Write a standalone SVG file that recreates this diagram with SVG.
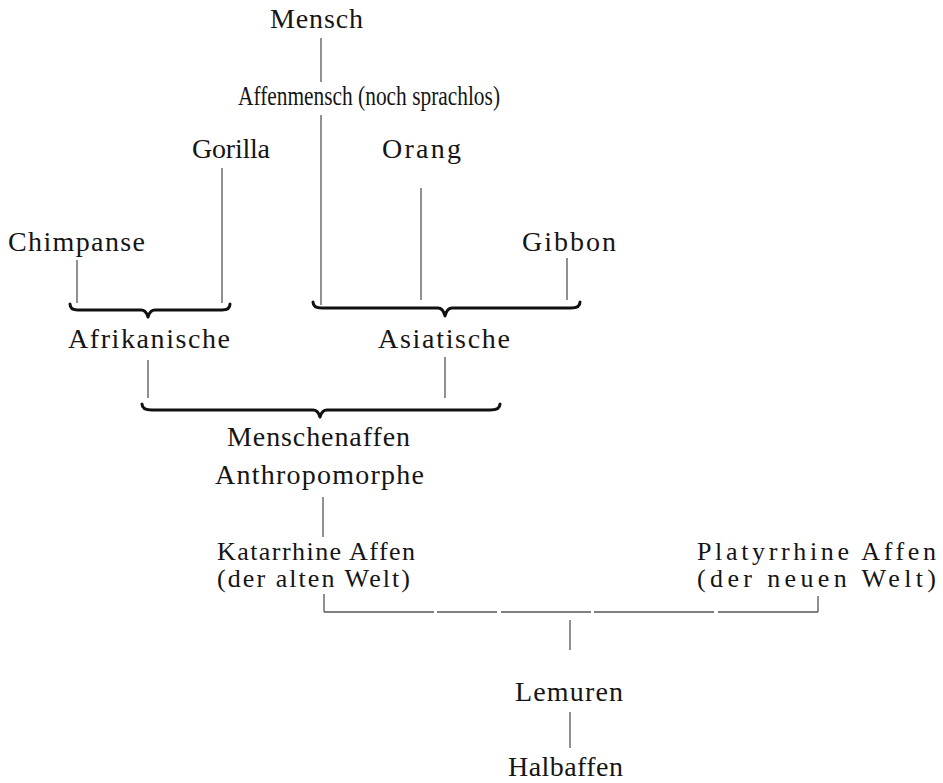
<svg xmlns="http://www.w3.org/2000/svg" width="943" height="783" viewBox="0 0 943 783">
<style>
text{font-family:"Liberation Serif","DejaVu Serif",serif;font-size:28px;fill:#151515}
text.s{font-size:26px}
.ln{stroke:#555;stroke-width:1.3;fill:none}
.br{stroke:#111;stroke-width:3;fill:none;stroke-linecap:round;stroke-linejoin:round}
</style>
<rect width="943" height="783" fill="#fff"/>
<g id="connectors">
<path class="ln" d="M321 38V82"/>
<path class="ln" d="M321 115V305"/>
<path class="ln" d="M222 168V303"/>
<path class="ln" d="M421 188V300"/>
<path class="ln" d="M77 260V303"/>
<path class="ln" d="M567 258V300"/>
<path class="ln" d="M148 360V398"/>
<path class="ln" d="M445 357V398"/>
<path class="ln" d="M323 497V537"/>
<path class="ln" d="M324 594V612"/>
<path class="ln" d="M818 596V612"/>
<path class="ln" d="M324 612H818" stroke-dasharray="110 3 60 4 90 3 120 4 200"/>
<path class="ln" d="M570 620V650"/>
<path class="ln" d="M570 712V748"/>
<path class="br" d="M70 304Q70 310 78 310H141Q146 310 148 317Q150 310 155 310H222Q230 310 230 304"/>
<path class="br" d="M313 302Q313 308 322 308H438Q443 308 445 316Q447 308 452 308H571Q580 308 580 302"/>
<path class="br" d="M142 404Q142 410 152 410H313Q318 410 320 417Q322 410 327 410H490Q500 410 500 404"/>
</g>
<g id="n-mensch"><text x="270" y="28" textLength="93">Mensch</text></g>
<g id="n-affenmensch"><text x="238" y="105" textLength="262" lengthAdjust="spacingAndGlyphs">Affenmensch (noch sprachlos)</text></g>
<g id="n-gorilla"><text x="192" y="158" textLength="78">Gorilla</text></g>
<g id="n-orang"><text x="382" y="158" textLength="79">Orang</text></g>
<g id="n-chimpanse"><text x="8" y="251" textLength="137">Chimpanse</text></g>
<g id="n-gibbon"><text x="522" y="251" textLength="94">Gibbon</text></g>
<g id="n-afrikanische"><text x="68" y="348" textLength="162">Afrikanische</text></g>
<g id="n-asiatische"><text x="378" y="348" textLength="132">Asiatische</text></g>
<g id="n-menschenaffen"><text x="227" y="446" textLength="183">Menschenaffen</text><text x="215" y="484" textLength="209">Anthropomorphe</text></g>
<g id="n-katarrhine"><text class="s" x="217" y="560" textLength="198">Katarrhine Affen</text><text class="s" x="217" y="587" textLength="193">(der alten Welt)</text></g>
<g id="n-platyrrhine"><text class="s" x="697" y="560" textLength="239">Platyrrhine Affen</text><text class="s" x="697" y="587" textLength="239">(der neuen Welt)</text></g>
<g id="n-lemuren"><text x="515" y="701" textLength="108">Lemuren</text></g>
<g id="n-halbaffen"><text x="508" y="776" textLength="115">Halbaffen</text></g>
</svg>
